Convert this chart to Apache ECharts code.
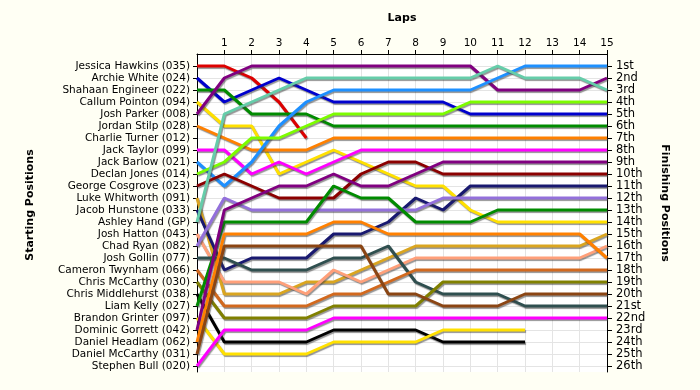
<!DOCTYPE html>
<html>
<head>
<meta charset="utf-8">
<script src="https://cdn.jsdelivr.net/npm/echarts@6/dist/echarts.min.js"></script>
<style>
html,body{margin:0;padding:0;background:#FFFFF4;}
#chart{width:700px;height:390px;}
</style>
</head>
<body>
<div id="chart"></div>
<script>
// ---- data ----
const lapLabels = ['1','2','3','4','5','6','7','8','9','10','11','12','13','14','15'];
const startLabels = ['Jessica Hawkins (035)','Archie White (024)','Shahaan Engineer (022)','Callum Pointon (094)','Josh Parker (008)','Jordan Stilp (028)','Charlie Turner (012)','Jack Taylor (099)','Jack Barlow (021)','Declan Jones (014)','George Cosgrove (023)','Luke Whitworth (091)','Jacob Hunstone (033)','Ashley Hand (GP)','Josh Hatton (043)','Chad Ryan (082)','Josh Gollin (077)','Cameron Twynham (066)','Chris McCarthy (030)','Chris Middlehurst (038)','Liam Kelly (027)','Brandon Grinter (097)','Dominic Gorrett (042)','Daniel Headlam (062)','Daniel McCarthy (031)','Stephen Bull (020)'];
const finishLabels = ['1st','2nd','3rd','4th','5th','6th','7th','8th','9th','10th','11th','12th','13th','14th','15th','16th','17th','18th','19th','20th','21st','22nd','23rd','24th','25th','26th'];

// position after each lap (index 0 = start)
const jessicaHawkins   = [1,1,2,4,7];
const archieWhite      = [2,4,3,2,3,4,4,4,4,4,5,5,5,5,5,5];
const shahaanEngineer  = [3,3,5,5,5,6,6,6,6,6,6,6,6,6,6,6];
const callumPointon    = [4,6,6,10,9,8,9,10,11,11,13,14,14,14,14,14];
const joshParker       = [5,2,1,1,1,1,1,1,1,1,1,3,3,3,3,2];
const jordanStilp      = [6,7,8,8,8,7,7,7,7,7,7,7,7,7,7,7];
const charlieTurner    = [7];
const jackTaylor       = [8,8,10,9,10,9,8,8,8,8,8,8,8,8,8,8];
const jackBarlow       = [9,11,9,6,4,3,3,3,3,3,3,2,1,1,1,1];
const declanJones      = [10,9,7,7,6,5,5,5,5,5,4,4,4,4,4,4];
const georgeCosgrove   = [11,10,11,12,12,12,10,9,9,10,10,10,10,10,10,10];
const lukeWhitworth    = [12,20,20,20,19,19,18,17,16,16,16,16,16,16,16,15];
const jacobHunstone    = [13,18,17,17,17,15,15,14,12,13,11,11,11,11,11,11];
const ashleyHand       = [14,5,4,3,2,2,2,2,2,2,2,1,2,2,2,3];
const joshHatton       = [15,19,19,19,20,18,19,18,17,17,17,17,17,17,17,16];
const chadRyan         = [16,12,13,13,13,13,13,13,13,12,12,12,12,12,12,12];
const joshGollin       = [17,17,18,18,18,17,17,16,19,20,20,20,21,21,21,21];
const cameronTwynham   = [18,21,21,21,21,20,20,19,18,18,18,18,18,18,18,18];
const chrisMcCarthy    = [19,22,22,22,22,21,21,21,21,19,19,19,19,19,19,19];
const chrisMiddlehurst = [20,24,24,24,24,23,23,23,23,24,24,24,24];
const liamKelly        = [21,14,14,14,14,11,12,12,14,14,14,13,13,13,13,13];
const brandonGrinter   = [22,25,25,25,25,24,24,24,24,23,23,23,23];
const dominicGorrett   = [23,13,12,11,11,10,11,11,10,9,9,9,9,9,9,9];
const danielHeadlam    = [24,15,15,15,15,14,14,15,15,15,15,15,15,15,15,17];
const danielMcCarthy   = [25,16,16,16,16,16,16,20,20,21,21,21,20,20,20,20];
const stephenBull      = [26,23,23,23,23,22,22,22,22,22,22,22,22,22,22,22];

const driverPositions = [jessicaHawkins,archieWhite,shahaanEngineer,callumPointon,joshParker,jordanStilp,charlieTurner,jackTaylor,jackBarlow,declanJones,georgeCosgrove,lukeWhitworth,jacobHunstone,ashleyHand,joshHatton,chadRyan,joshGollin,cameronTwynham,chrisMcCarthy,chrisMiddlehurst,liamKelly,brandonGrinter,dominicGorrett,danielHeadlam,danielMcCarthy,stephenBull];

// ---- styles ----
const lineColors = ['#DD0000','#0000CD','#008B00','#FFE000','#800080','#FF8000','#888888','#FF00FF','#1E90FF','#7CFC00','#8B0000','#DAA520','#191970','#66CDAA','#FFA07A','#9370DB','#2F4F4F','#D2691E','#808000','#000000','#008B00','#FFE000','#800080','#FF8000','#8B4513','#FF00FF'];
const FONT = '"DejaVu Sans", Verdana, sans-serif';

const posValues = startLabels.map((_, i) => i + 1);
const lapValues = lapLabels.map((_, i) => i + 1);

const series = driverPositions.map((pos, d) => ({
  name: startLabels[d],
  type: 'line',
  yAxisIndex: 0,
  symbol: 'none',
  showSymbol: false,
  data: pos.map((p, lap) => [lap, p]),
  lineStyle: {
    width: 3,
    color: lineColors[d],
    shadowColor: 'rgba(60,60,60,0.55)',
    shadowBlur: 1,
    shadowOffsetX: 1,
    shadowOffsetY: 1.5
  },
  itemStyle: {color: lineColors[d]},
  emphasis: {disabled: true}
}));

const chart = echarts.init(document.getElementById('chart'), null, {renderer: 'canvas'});
chart.setOption({
  animation: false,
  backgroundColor: '#FFFFF4',
  grid: {left: 197, top: 54, width: 410, height: 318, show: true, backgroundColor: '#FFFFFF', borderWidth: 0},
  xAxis: {
    type: 'value', position: 'top', min: 0, max: 15, interval: 1,
    axisLine: {show: true, lineStyle: {color: '#000', width: 1}},
    axisTick: {show: true, length: 4, customValues: lapValues, lineStyle: {color: '#000'}},
    axisLabel: {customValues: lapValues, formatter: v => lapLabels[v - 1] || '', color: '#000', fontFamily: FONT, fontSize: 10.5, margin: 5},
    splitLine: {show: true, lineStyle: {color: '#E4E4E4', width: 1}}
  },
  yAxis: [{
    type: 'value', inverse: true, min: 0, max: 26.5, interval: 1, position: 'left',
    axisLine: {show: true, lineStyle: {color: '#000', width: 1}},
    axisTick: {show: true, length: 4, customValues: posValues, lineStyle: {color: '#000'}},
    axisLabel: {customValues: posValues, formatter: v => startLabels[v - 1] || '', color: '#000', fontFamily: FONT, fontSize: 10.5, margin: 7},
    splitLine: {show: true, lineStyle: {color: '#E4E4E4', width: 1}}
  }, {
    type: 'value', inverse: true, min: 0, max: 26.5, interval: 1, position: 'right',
    axisLine: {show: true, lineStyle: {color: '#000', width: 1}},
    axisTick: {show: true, length: 5, customValues: posValues, lineStyle: {color: '#000'}},
    axisLabel: {customValues: posValues, formatter: v => finishLabels[v - 1] || '', color: '#000', fontFamily: FONT, fontSize: 11.5, margin: 9},
    splitLine: {show: false}
  }],
  graphic: [
    {type: 'text', x: 402, y: 18, style: {text: 'Laps', font: 'bold 11px ' + FONT, fill: '#000', textAlign: 'center', textVerticalAlign: 'middle'}},
    {type: 'text', x: 30, y: 205, rotation: Math.PI / 2, style: {text: 'Starting Positions', font: 'bold 11px ' + FONT, fill: '#000', textAlign: 'center', textVerticalAlign: 'middle'}},
    {type: 'text', x: 665, y: 203, rotation: -Math.PI / 2, style: {text: 'Finishing Positions', font: 'bold 11px ' + FONT, fill: '#000', textAlign: 'center', textVerticalAlign: 'middle'}}
  ],
  series: series
});
</script>
</body>
</html>
